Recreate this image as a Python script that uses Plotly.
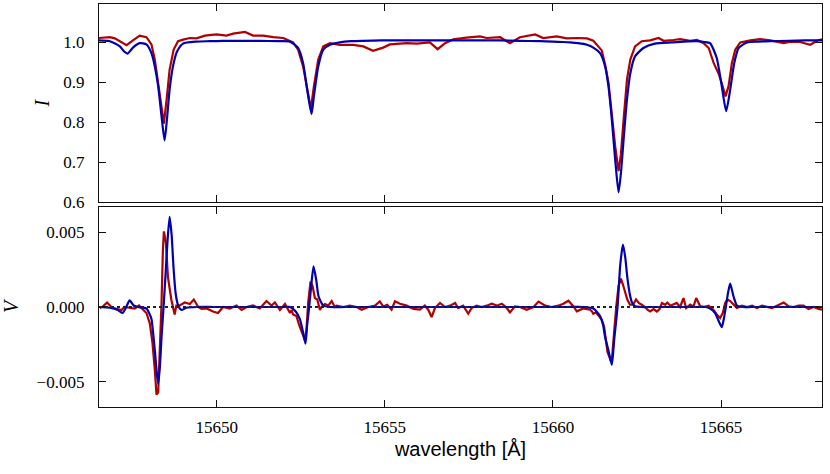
import plotly.graph_objects as go

# ---------------- data ----------------
# Observed Stokes I (red)
obs_I_wl = [15646.50, 15646.82, 15646.97, 15647.12, 15647.32, 15647.51, 15647.71, 15647.91,
            15648.06, 15648.16, 15648.26, 15648.34, 15648.43, 15648.51, 15648.60, 15648.72,
            15648.85, 15649.00, 15649.20, 15649.40, 15649.65, 15649.99, 15650.29, 15650.49,
            15650.84, 15651.08, 15651.38, 15651.68, 15651.98, 15652.27, 15652.42, 15652.57,
            15652.69, 15652.80, 15652.89, 15653.02, 15653.17, 15653.37, 15653.66, 15654.06,
            15654.36, 15654.65, 15654.95, 15655.15, 15655.65, 15655.95, 15656.34, 15656.57,
            15656.79, 15657.04, 15657.43, 15657.83, 15658.03, 15658.43, 15658.72, 15659.02,
            15659.47, 15659.71, 15660.11, 15660.41, 15660.71, 15661.01, 15661.20, 15661.45,
            15661.55, 15661.65, 15661.75, 15661.85, 15661.95, 15662.02, 15662.10, 15662.20,
            15662.30, 15662.44, 15662.64, 15662.89, 15663.14, 15663.29, 15663.58, 15663.78,
            15664.08, 15664.28, 15664.48, 15664.63, 15664.78, 15664.92, 15665.02, 15665.13,
            15665.22, 15665.32, 15665.42, 15665.57, 15665.87, 15666.16, 15666.46, 15666.86,
            15667.06, 15667.35, 15667.65, 15667.85, 15668.00]
obs_I = [1.011, 1.013, 1.010, 1.003, 0.993, 1.005, 1.017, 1.013,
         0.995, 0.957, 0.898, 0.840, 0.797, 0.857, 0.932, 0.982,
         1.003, 1.007, 1.011, 1.010, 1.017, 1.020, 1.017, 1.022,
         1.026, 1.017, 1.017, 1.013, 1.011, 1.000, 0.982, 0.940,
         0.882, 0.834, 0.890, 0.957, 0.990, 0.998, 0.994, 0.994,
         0.990, 0.979, 0.987, 0.995, 0.998, 0.997, 1.000, 0.983,
         0.998, 1.008, 1.012, 1.015, 1.011, 1.013, 0.998, 1.013,
         1.020, 1.011, 1.015, 1.010, 1.011, 1.010, 1.004, 0.980,
         0.945, 0.900, 0.820, 0.740, 0.678, 0.720, 0.807, 0.907,
         0.957, 0.990, 1.003, 1.005, 1.011, 1.004, 1.006, 1.008,
         1.004, 1.006, 0.998, 0.986, 0.948, 0.923, 0.898, 0.865,
         0.890, 0.948, 0.982, 1.000, 1.005, 1.008, 1.005, 0.998,
         1.002, 1.001, 0.994, 1.004, 1.008]

# Synthetic (fitted) Stokes I (blue)
fit_I_wl = [15646.50, 15646.82, 15647.12, 15647.24, 15647.35, 15647.44, 15647.51, 15647.71,
            15647.91, 15648.06, 15648.16, 15648.26, 15648.36, 15648.45, 15648.52, 15648.60,
            15648.70, 15648.82, 15649.00, 15649.40, 15649.80, 15650.18, 15650.70, 15651.28,
            15651.80, 15652.18, 15652.42,
            15652.57, 15652.69, 15652.82, 15652.89, 15653.02, 15653.17, 15653.37, 15653.66,
            15654.00, 15654.35, 15654.90, 15655.45, 15656.20, 15657.00, 15657.70, 15658.42,
            15659.00, 15659.61, 15660.00, 15660.30, 15660.51, 15660.75, 15661.01, 15661.20,
            15661.40,
            15661.55, 15661.65, 15661.75, 15661.85, 15661.95, 15662.02, 15662.10, 15662.20,
            15662.30, 15662.44, 15662.69, 15663.03, 15663.53, 15663.90, 15664.28, 15664.50,
            15664.67, 15664.87,
            15665.02, 15665.15, 15665.27, 15665.39, 15665.52, 15665.77, 15666.10, 15666.46,
            15667.00, 15667.50, 15668.00]
fit_I = [1.005, 1.003, 0.990, 0.978, 0.972, 0.980, 0.987, 0.998,
         0.995, 0.973, 0.940, 0.890, 0.815, 0.755, 0.807, 0.882,
         0.940, 0.977, 0.997, 1.002, 1.003, 1.004, 1.004, 1.004,
         1.003, 1.002, 0.986,
         0.948, 0.882, 0.821, 0.865, 0.940, 0.982, 0.994, 1.000,
         1.003, 1.004, 1.005, 1.005, 1.005, 1.005, 1.005, 1.005,
         1.004, 1.003, 1.002, 1.001, 1.000, 0.998, 0.994, 0.987,
         0.973,
         0.940, 0.890, 0.807, 0.707, 0.625, 0.673, 0.757, 0.857,
         0.923, 0.965, 0.986, 0.997, 1.000, 1.002, 1.003, 1.001,
         0.998, 0.961,
         0.890, 0.828, 0.882, 0.948, 0.986, 1.000, 1.002, 1.003,
         1.004, 1.005, 1.005]

# Observed Stokes V (red)
obs_V_wl = [15646.52, 15646.62, 15646.74, 15646.87, 15647.02, 15647.17, 15647.26, 15647.41,
            15647.56, 15647.69, 15647.81, 15647.91, 15648.01, 15648.09, 15648.16, 15648.21,
            15648.26, 15648.31, 15648.36, 15648.40, 15648.43, 15648.49, 15648.55, 15648.65,
            15648.70, 15648.75, 15648.80, 15648.90, 15649.05, 15649.20, 15649.32, 15649.45,
            15649.55, 15649.70, 15649.89, 15650.04, 15650.19, 15650.39, 15650.59, 15650.74,
            15650.89, 15651.08, 15651.28, 15651.48, 15651.63, 15651.73, 15651.88, 15652.03,
            15652.18, 15652.23, 15652.27, 15652.37, 15652.45, 15652.52, 15652.62, 15652.67,
            15652.72, 15652.79, 15652.85, 15652.92, 15652.99, 15653.07, 15653.12, 15653.22,
            15653.32, 15653.42, 15653.51, 15653.57, 15653.76, 15653.96, 15654.16, 15654.31,
            15654.51, 15654.71, 15654.85, 15654.95, 15655.07, 15655.20, 15655.30, 15655.45,
            15655.65, 15655.85, 15656.04, 15656.19, 15656.29, 15656.39, 15656.49, 15656.64,
            15656.79, 15656.94, 15657.09, 15657.18, 15657.33, 15657.48, 15657.58, 15657.73,
            15657.88, 15658.03, 15658.18, 15658.33, 15658.48, 15658.63, 15658.72, 15658.87,
            15659.02, 15659.22, 15659.42, 15659.57, 15659.77, 15659.96, 15660.16, 15660.31,
            15660.46, 15660.61, 15660.71, 15660.90, 15661.10, 15661.16, 15661.20, 15661.28,
            15661.35, 15661.45, 15661.52, 15661.58, 15661.62, 15661.67, 15661.72, 15661.76,
            15661.82, 15661.88, 15661.95, 15662.02, 15662.08, 15662.15, 15662.21, 15662.29,
            15662.38, 15662.47, 15662.56, 15662.64, 15662.74, 15662.81, 15662.89, 15662.99,
            15663.09, 15663.17, 15663.24, 15663.34, 15663.40, 15663.49, 15663.68, 15663.78,
            15663.88, 15663.96, 15664.08, 15664.18, 15664.26, 15664.38, 15664.48, 15664.63,
            15664.77, 15664.87, 15664.97, 15665.05, 15665.12, 15665.19, 15665.27, 15665.37,
            15665.47, 15665.62, 15665.77, 15665.92, 15666.07, 15666.21, 15666.36, 15666.51,
            15666.66, 15666.86, 15667.01, 15667.15, 15667.30, 15667.45, 15667.60, 15667.75,
            15667.90, 15668.00]
obs_V = [-0.00007, 0.00004, 0.0003, 0.0, -0.00013, -0.0002, 0.0, -0.00005,
         -0.0001, 0.0001, -0.0002, -0.0004, -0.0011, -0.0024, -0.0042, -0.00586,
         -0.0057, -0.0031, 0.0003, 0.0038, 0.00505, 0.0043, 0.0020, 0.0005,
         0.0, -0.0005, 0.0001, 0.0001, 0.0003, 0.0002, 0.0005, 0.0,
         -0.00013, -0.0001, -0.0003, -0.0004, 0.0, -0.0001, 0.0001, -0.0002,
         0.0, 0.0001, -0.0001, 0.0004, 0.0001, 0.0003, -0.0002, 0.0002,
         -0.0004, -0.0002, -0.0005, -0.0006, -0.0012, -0.0016, -0.0022, -0.0015,
         0.0003, 0.0017, 0.0014, 0.0006, 0.0005, -0.0002, 0.0, 0.0002,
         0.0001, 0.0004, 0.0, 0.00009, 0.0, 0.00009, 0.0, -0.00018,
         0.0, 0.00009, 0.00038, 0.00004, 0.00015, -0.00018, 0.00038, 0.00022,
         0.00009, -0.00013, -0.00018, 0.00009, -0.00018, -0.00067, -0.00007, 0.00027,
         0.0, 0.00009, 0.00027, -0.00007, 0.00009, -0.00045, -0.00007, 0.00009,
         0.0, 0.00009, 0.00022, 0.00009, 0.00022, -0.00007, -0.00036, 0.00004,
         0.0, -0.00018, 0.0, 0.00036, 0.00009, 0.0, 0.00009, 0.00022,
         0.00042, 0.00004, -0.00029, -0.0001, -0.00018, -0.0003, -0.00045, -0.00036,
         -0.00058, -0.00085, -0.0013, -0.0022, -0.0030, -0.0033, -0.0036, -0.0033,
         -0.0015, 0.0, 0.0014, 0.0019, 0.0015, 0.0009, 0.0005, 0.00015,
         0.00015, 0.0005, 0.00026, 0.00015, 0.0, -0.00018, -0.0003, -0.00014,
         -0.0003, -0.00014, 0.00027, 0.00015, 0.0003, 0.00009, 0.00027, 0.0,
         0.0006, -0.00007, 0.00016, 0.00004, 0.0006, 0.00004, 0.0, 0.00009,
         -0.00018, -0.0005, -0.00074, -0.0004, 0.00027, 0.0005, 0.0004, 0.00016,
         -0.00007, 0.00009, 0.0, 0.00009, -0.00007, 0.00009, 0.0, -0.00007,
         0.00009, 0.0003, 0.00004, 0.0, 0.00009, 0.00009, -0.00013, 0.0,
         -0.00013, -0.00018]

# Synthetic (fitted) Stokes V (blue)
fit_V_wl = [15646.50, 15646.82, 15647.06, 15647.20, 15647.29, 15647.41, 15647.53, 15647.65,
            15647.91, 15648.01, 15648.06, 15648.16, 15648.21, 15648.26, 15648.31, 15648.36,
            15648.42, 15648.48, 15648.54, 15648.60, 15648.66, 15648.72, 15648.78, 15648.84,
            15648.90, 15648.96, 15649.10, 15649.40, 15649.90, 15650.50, 15651.10, 15651.60,
            15652.00, 15652.18, 15652.35, 15652.47, 15652.56,
            15652.64, 15652.69, 15652.75, 15652.81, 15652.88, 15652.96, 15653.03, 15653.17,
            15653.37, 15653.80, 15654.40, 15655.00, 15655.60, 15656.20, 15656.80, 15657.40,
            15658.00, 15658.60, 15659.20, 15659.80, 15660.40, 15660.90, 15661.20, 15661.40,
            15661.49, 15661.55, 15661.65, 15661.75, 15661.82,
            15661.92, 15662.00, 15662.08, 15662.15, 15662.21, 15662.29, 15662.35, 15662.44,
            15662.60, 15662.90, 15663.30, 15663.70, 15664.10, 15664.35, 15664.53, 15664.67,
            15664.82, 15664.92, 15665.02, 15665.08, 15665.14,
            15665.21, 15665.27, 15665.37, 15665.47, 15665.63, 15665.90, 15666.30, 15666.80,
            15667.30, 15667.70, 15668.00]
fit_V = [0.0, -0.00005, -0.0002, -0.0004, -0.0001, 0.00044, 0.0001, 0.0,
         -0.0001, -0.0005, -0.0008, -0.0029, -0.0042, -0.00513, -0.0040, -0.0020,
         0.0, 0.0022, 0.0045, 0.00602, 0.0048, 0.0025, 0.0009, 0.0002,
         -0.0001, -0.0002, -0.00005, 0.0, 0.0, 0.0, 0.0, 0.0,
         0.0, 0.0, -0.0003, -0.0008, -0.0016,
         -0.00245, -0.0012, 0.0, 0.0014, 0.00271, 0.0018, 0.0007, 0.0001,
         0.0, 0.0, 0.0, 0.0, 0.0, 0.0, 0.0, 0.0,
         0.0, 0.0, 0.0, 0.0, 0.0, 0.0, -0.0001, -0.0006,
         -0.0012, -0.0020, -0.0029, -0.00386, -0.0022,
         0.0, 0.0028, 0.00416, 0.0033, 0.0020, 0.0008, 0.0003, 0.00005,
         0.0, 0.0, 0.0, 0.0, 0.0, 0.0, 0.0, -0.0001,
         -0.0004, -0.0009, -0.00134, -0.0008, 0.0,
         0.0010, 0.00156, 0.0007, 0.0001, 0.0, 0.0, 0.0, 0.0,
         0.0, 0.0, 0.0]

wl_range = [15646.5, 15668.0]
x_ticks = [15650, 15655, 15660, 15665]
I_range = [0.6, 1.096]
I_ticks = [0.6, 0.7, 0.8, 0.9, 1.0]
V_range = [-0.00668, 0.00668]
V_ticks = [-0.005, 0.0, 0.005]

RED = "#b00000"
BLUE = "#0000b0"
SERIF = "Liberation Serif, Times New Roman, serif"
SANS = "Liberation Sans, Arial, sans-serif"

fig = go.Figure()
fig.add_trace(go.Scatter(x=obs_I_wl, y=obs_I, mode="lines", line=dict(color=RED, width=2.2),
                         xaxis="x", yaxis="y", showlegend=False))
fig.add_trace(go.Scatter(x=fit_I_wl, y=fit_I, mode="lines",
                         line=dict(color=BLUE, width=2.2, shape="spline", smoothing=0.6),
                         xaxis="x", yaxis="y", showlegend=False))
fig.add_trace(go.Scatter(x=obs_V_wl, y=obs_V, mode="lines", line=dict(color=RED, width=2.2),
                         xaxis="x2", yaxis="y2", showlegend=False))
fig.add_trace(go.Scatter(x=fit_V_wl, y=fit_V, mode="lines",
                         line=dict(color=BLUE, width=2.2, shape="spline", smoothing=0.6),
                         xaxis="x2", yaxis="y2", showlegend=False))

fig.add_shape(type="line", xref="x2 domain", yref="y2", x0=0, x1=1, y0=0, y1=0,
              line=dict(color="#222222", width=2, dash="3px,3px"), layer="above")

def axis_style(**kw):
    d = dict(showline=True, linecolor="#111111", linewidth=1.3, mirror="ticks",
             ticks="inside", ticklen=7, tickwidth=1, tickcolor="#111111",
             showgrid=False, zeroline=False, automargin=False,
             tickfont=dict(family=SERIF, size=17, color="black"))
    d.update(kw)
    return d

fig.update_layout(
    width=830, height=474,
    margin=dict(l=99, r=8, t=4, b=67, autoexpand=False),
    paper_bgcolor="white", plot_bgcolor="white",
    font=dict(family=SERIF, size=17, color="black"),
    xaxis=axis_style(range=wl_range, tickvals=x_ticks, showticklabels=False,
                     anchor="y", domain=[0, 1]),
    yaxis=axis_style(range=I_range, tickvals=I_ticks, tickformat=".1f",
                     domain=[0.5077, 1.0], anchor="x", ticklabelstandoff=10,
                     title=dict(text="<i>I</i>", font=dict(family=SERIF, size=20, color="black"),
                                standoff=8)),
    xaxis2=axis_style(range=wl_range, tickvals=x_ticks, tickformat="d",
                      anchor="y2", domain=[0, 1], matches="x", ticklabelstandoff=4,
                      title=dict(text="wavelength [Å]", font=dict(family=SANS, size=20, color="black"),
                                 standoff=6)),
    yaxis2=axis_style(range=V_range, tickvals=V_ticks, tickformat=".3f",
                      domain=[0.0, 0.4963], anchor="x2", ticklabelstandoff=10,
                      title=dict(text="<i>V</i>", font=dict(family=SERIF, size=20, color="black"),
                                 standoff=12)),
)

fig.write_html("out.html", config={"displayModeBar": False},
               post_script="document.body.style.margin='0px';")
